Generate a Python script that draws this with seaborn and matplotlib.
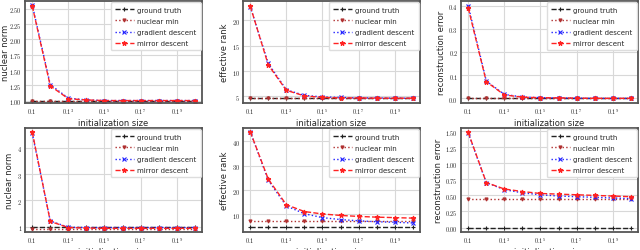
import numpy as np
import pandas as pd
import seaborn as sns
import matplotlib.pyplot as plt
from matplotlib.ticker import FixedLocator, FuncFormatter

# exponents k for initialization size 0.1^k
exps = [1, 2, 3, 4, 5, 6, 7, 8, 9, 10]
series_names = ['ground truth', 'nuclear min', 'gradient descent', 'mirror descent']

# top row
nn_top_gt = [1.0] * 10
nn_top_nm = [1.0] * 10
nn_top_gd = [2.57, 1.26, 1.04, 1.01, 1.0, 1.0, 1.0, 1.0, 1.0, 1.0]
nn_top_md = [2.55, 1.24, 1.03, 1.01, 1.0, 1.0, 1.0, 1.0, 1.0, 1.0]

er_top_gt = [4.6] * 10
er_top_nm = [4.6] * 10
er_top_gd = [22.7, 11.5, 6.3, 5.2, 4.9, 4.8, 4.7, 4.7, 4.65, 4.65]
er_top_md = [22.8, 11.2, 6.2, 5.1, 4.8, 4.7, 4.7, 4.65, 4.65, 4.65]

re_top_gt = [0.0] * 10
re_top_nm = [0.0] * 10
re_top_gd = [0.40, 0.075, 0.017, 0.006, 0.003, 0.002, 0.001, 0.0, 0.0, 0.0]
re_top_md = [0.39, 0.072, 0.015, 0.005, 0.003, 0.002, 0.001, 0.0, 0.0, 0.0]

# bottom row
nn_bot_gt = [1.0] * 10
nn_bot_nm = [0.93] * 10
nn_bot_gd = [4.55, 1.22, 0.98, 0.97, 0.97, 0.97, 0.97, 0.97, 0.97, 0.97]
nn_bot_md = [4.6, 1.2, 0.97, 0.95, 0.94, 0.94, 0.94, 0.94, 0.94, 0.94]

er_bot_gt = [5.0] * 10
er_bot_nm = [7.5] * 10
er_bot_gd = [44.0, 24.0, 13.5, 10.3, 8.7, 7.9, 7.4, 7.0, 6.8, 6.5]
er_bot_md = [44.0, 24.5, 14.0, 11.2, 10.2, 9.6, 9.2, 8.9, 8.7, 8.5]

re_bot_gt = [0.0] * 10
re_bot_nm = [0.45] * 10
re_bot_gd = [1.47, 0.70, 0.59, 0.54, 0.51, 0.49, 0.48, 0.47, 0.46, 0.45]
re_bot_md = [1.48, 0.70, 0.60, 0.56, 0.53, 0.52, 0.51, 0.50, 0.49, 0.48]

panels = [
    ('nuclear norm', [nn_top_gt, nn_top_nm, nn_top_gd, nn_top_md], [1.0, 1.25, 1.5, 1.75, 2.0, 2.25, 2.5], '%.2f', (0.96, 2.63)),
    ('effective rank', [er_top_gt, er_top_nm, er_top_gd, er_top_md], [5, 10, 15, 20], '%d', (3.7, 23.8)),
    ('reconstruction error', [re_top_gt, re_top_nm, re_top_gd, re_top_md], [0.0, 0.1, 0.2, 0.3, 0.4], '%.1f', (-0.02, 0.42)),
    ('nuclear norm', [nn_bot_gt, nn_bot_nm, nn_bot_gd, nn_bot_md], [1, 2, 3, 4], '%d', (0.8, 4.75)),
    ('effective rank', [er_bot_gt, er_bot_nm, er_bot_gd, er_bot_md], [10, 20, 30, 40], '%d', (2.8, 45.5)),
    ('reconstruction error', [re_bot_gt, re_bot_nm, re_bot_gd, re_bot_md], [0.0, 0.25, 0.5, 0.75, 1.0, 1.25, 1.5], '%.2f', (-0.07, 1.55)),
]

styles = {
    'ground truth': dict(color='#222222', linestyle='--', marker='+', markersize=3.5),
    'nuclear min': dict(color='#b03030', linestyle=':', marker='v', markersize=2.2),
    'gradient descent': dict(color='#2222ff', linestyle=':', marker='x', markersize=3.0),
    'mirror descent': dict(color='#ff2222', linestyle='--', marker='*', markersize=3.5),
}

sns.set_style('whitegrid')
plt.rcParams['font.family'] = ['DejaVu Sans']
plt.rcParams['mathtext.fontset'] = 'cm'

fig = plt.figure(figsize=(6.4, 2.51), dpi=100)
lefts = [25, 243, 461]
width = 177
positions = []
for top, bottom in [(2, 104), (129, 233)]:
    for l in lefts:
        positions.append([l / 640, 1 - bottom / 251, width / 640, (bottom - top) / 251])

for i, (ylabel, ys, yticks, fmt, ylim) in enumerate(panels):
    ax = fig.add_axes(positions[i])
    for name, y in zip(series_names, ys):
        df = pd.DataFrame({'exp': exps, 'value': y})
        st = styles[name]
        sns.lineplot(data=df, x='exp', y='value', ax=ax, label=name, linewidth=1.0,
                     markeredgecolor=st['color'], markerfacecolor=st['color'],
                     markeredgewidth=0.8, **st)
    ax.set_xlim(0.6, 10.4)
    ax.set_ylim(*ylim)
    ax.xaxis.set_major_locator(FixedLocator([1, 3, 5, 7, 9]))
    ax.xaxis.set_major_formatter(FuncFormatter(lambda v, p: '$0.1$' if int(v) == 1 else '$0.1^{%d}$' % int(v)))
    ax.yaxis.set_major_locator(FixedLocator(yticks))
    ax.yaxis.set_major_formatter(FuncFormatter(lambda v, p, f=fmt: '$' + (f % v) + '$'))
    ax.tick_params(axis='both', labelsize=4.5, pad=2, length=0)
    ax.set_xlabel('initialization size', fontsize=6, labelpad=2)
    ax.set_ylabel(ylabel, fontsize=6, labelpad=2)
    if i == 0:
        # keep the label inside the figure edge
        ax.yaxis.set_label_coords(-0.085, 0.5)
    ax.grid(True, color='#d8d8d8', linewidth=0.8)
    for s in ax.spines.values():
        s.set_color('#555555')
        s.set_linewidth(1.3)
    ax.legend(loc='upper right', fontsize=5, frameon=True, edgecolor='#dddddd',
              handlelength=2.7, borderpad=0.6, labelspacing=0.75, handletextpad=0.5,
              borderaxespad=0.2, framealpha=1)

fig.savefig('out.png', dpi=100)
